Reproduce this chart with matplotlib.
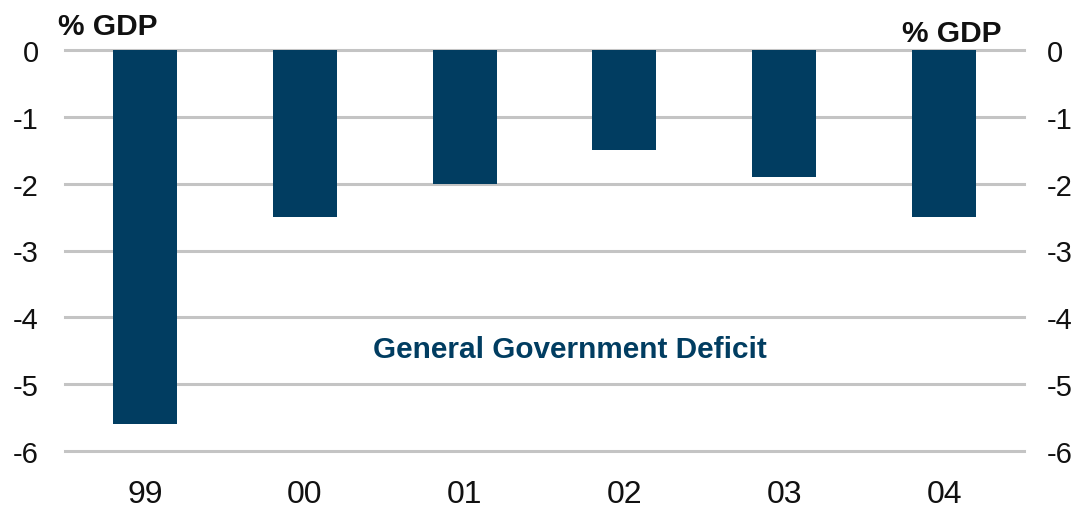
import matplotlib
matplotlib.use("Agg")
import matplotlib.pyplot as plt

years = ["99", "00", "01", "02", "03", "04"]
deficit = [-5.6, -2.5, -2.0, -1.5, -1.9, -2.5]
yticks = [0, -1, -2, -3, -4, -5, -6]

navy = "#013D61"
grid_gray = "#C4C4C4"
ink = "#111111"

plt.rcParams["font.family"] = ["Liberation Sans", "DejaVu Sans"]

fig = plt.figure(figsize=(10.78, 5.10), dpi=100)
ax = fig.add_axes([65 / 1078, 1 - 452 / 510, (1024 - 65) / 1078, (452 - 51) / 510])

x = list(range(len(years)))
ax.bar(x, deficit, width=0.4, color=navy, zorder=3)

ax.set_xlim(-0.5, len(years) - 0.5)
ax.set_ylim(-6, 0)
ax.set_yticks(yticks)
ax.set_yticklabels([str(v) for v in yticks])
ax.set_xticks(x)
ax.set_xticklabels(years)

for v in yticks:
    ax.axhline(v, color=grid_gray, lw=2.2, zorder=1, clip_on=False)

for s in ax.spines.values():
    s.set_visible(False)

ax.tick_params(axis="y", length=0, labelsize=21, pad=19, labelcolor=ink)
ax.tick_params(axis="x", length=0, labelsize=23, pad=20, labelcolor=ink)

# mirrored scale on the right-hand side
axr = ax.twinx()
axr.set_ylim(ax.get_ylim())
axr.set_yticks(yticks)
axr.set_yticklabels([str(v) for v in yticks])
axr.tick_params(axis="y", length=0, labelsize=21, pad=16.5, labelcolor=ink)
for s in axr.spines.values():
    s.set_visible(False)

fig.text(58 / 1078, 1 - 35 / 510, "% GDP", fontsize=21.5, fontweight="bold",
         ha="left", va="baseline", color=ink)
fig.text(1002 / 1078, 1 - 42 / 510, "% GDP", fontsize=21.5, fontweight="bold",
         ha="right", va="baseline", color=ink)

fig.text(373 / 1078, 1 - 358 / 510, "General Government Deficit", fontsize=21.4,
         fontweight="bold", ha="left", va="baseline", color=navy)

fig.savefig("out.png", dpi=100)
